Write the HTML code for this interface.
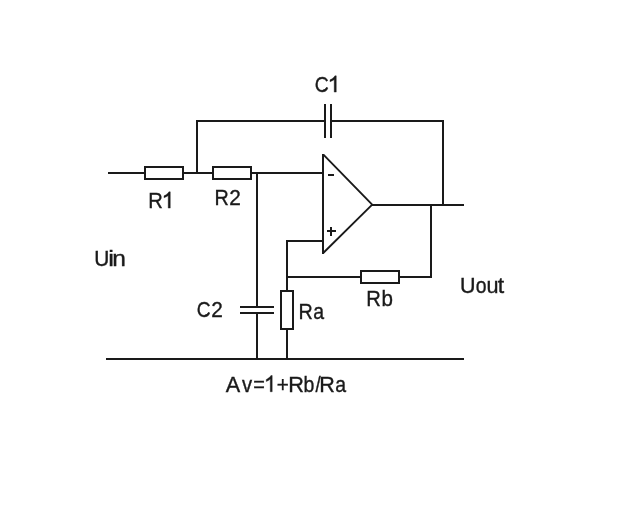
<!DOCTYPE html>
<html><head><meta charset="utf-8">
<style>
html,body{margin:0;padding:0;background:#fff;width:640px;height:512px;overflow:hidden}
svg{display:block;filter:grayscale(1)}
text{font-family:"Liberation Sans",sans-serif;font-size:21px;stroke:#1a1a1a;stroke-width:0.35px}
</style></head>
<body>
<svg width="640" height="512" viewBox="0 0 640 512">
<rect width="640" height="512" fill="#fff"/>
<g stroke="#1a1a1a" stroke-width="2" fill="none" shape-rendering="crispEdges">
<path d="M108 173H144"/>
<rect x="145" y="167" width="38" height="12"/>
<path d="M184 173H212"/>
<rect x="213" y="167" width="38" height="12"/>
<path d="M252 173H322"/>
<path d="M197 120V174"/>
<path d="M196 121H324M332 121H444"/>
<path d="M325 104V138M331 104V138"/>
<path d="M443 120V206"/>
<path d="M371 205H464"/>
<path d="M431 204V278"/>
<path d="M286 277H360M400 277H432"/>
<rect x="361" y="271" width="38" height="12"/>
<path d="M286 241H322"/>
<path d="M287 240V290M287 330V360"/>
<rect x="281" y="291" width="12" height="38"/>
<path d="M257 172V306M257 314V360"/>
<path d="M240 307H274M240 313H274"/>
<path d="M106 359H464"/>
</g>
<g stroke="#1a1a1a" stroke-width="2" fill="none">
<path d="M323.4 154.6L372.2 204.6L323.2 253" stroke-width="1.9" stroke-linejoin="round"/>
<path d="M323 154V254" shape-rendering="crispEdges"/>
</g>
<g fill="#1a1a1a" shape-rendering="crispEdges">
<rect x="328" y="174" width="6" height="2"/>
<rect x="327" y="230" width="9" height="2"/>
<rect x="330" y="227" width="2" height="9"/>
</g>
<g fill="#1a1a1a" stroke="#1a1a1a">
<text transform="translate(314.77,92.09) scale(0.921,1.08)">C</text>
<path transform="translate(327.42,92.09) scale(0.011574,-0.011074)" stroke-width="34.1" d="M763 0H587V1147Q523 1086 421 1025Q319 964 223 930V1104Q375 1175 489 1276Q603 1377 649 1466H763Z"/>
<text transform="translate(148.34,208.08) scale(0.962,1.08)">R</text>
<path transform="translate(161.42,208.08) scale(0.011574,-0.011074)" stroke-width="34.1" d="M763 0H587V1147Q523 1086 421 1025Q319 964 223 930V1104Q375 1175 489 1276Q603 1377 649 1466H763Z"/>
<text transform="translate(214.38,204.75) scale(0.942,1.08)">R</text>
<text transform="translate(229.20,204.75) scale(0.993,1.08)">2</text>
<text transform="translate(94.29,265.51) scale(0.994,1.08)">U</text>
<text transform="translate(108.29,265.51) scale(1.219,1.08)">i</text>
<text transform="translate(112.27,265.51) scale(1.166,1.08)">n</text>
<text transform="translate(196.63,317.11) scale(0.914,1.08)">C</text>
<text transform="translate(211.20,317.11) scale(0.993,1.08)">2</text>
<text transform="translate(298.38,319.14) scale(0.942,1.08)">R</text>
<text transform="translate(313.17,319.14) scale(0.927,1.08)">a</text>
<text transform="translate(366.34,305.61) scale(0.962,1.08)">R</text>
<text transform="translate(381.42,305.61) scale(0.979,1.08)">b</text>
<text transform="translate(460.04,293.35) scale(1.023,1.08)">U</text>
<text transform="translate(475.79,293.35) scale(0.923,1.08)">o</text>
<text transform="translate(486.49,293.35) scale(1.031,1.08)">u</text>
<text transform="translate(497.65,293.35) scale(1.100,1.08)">t</text>
<text transform="translate(225.71,391.75) scale(1.031,1.08)">A</text>
<text transform="translate(241.93,391.75) scale(0.966,1.08)">v</text>
<text transform="translate(253.13,391.75) scale(0.946,1.08)">=</text>
<path transform="translate(263.79,391.75) scale(0.011019,-0.011074)" stroke-width="34.1" d="M763 0H587V1147Q523 1086 421 1025Q319 964 223 930V1104Q375 1175 489 1276Q603 1377 649 1466H763Z"/>
<text transform="translate(276.79,391.75) scale(0.980,1.08)">+</text>
<text transform="translate(288.22,391.75) scale(1.035,1.08)">R</text>
<text transform="translate(303.50,391.75) scale(0.927,1.08)">b</text>
<text transform="translate(315.50,391.75) scale(0.891,1.08)">/</text>
<text transform="translate(319.23,391.75) scale(1.027,1.08)">R</text>
<text transform="translate(335.17,391.75) scale(0.927,1.08)">a</text>
</g>
</svg>
</body></html>
